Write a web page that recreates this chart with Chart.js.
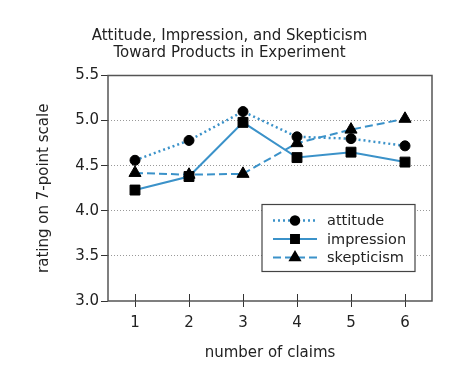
<!DOCTYPE html>
<html>
<head>
<meta charset="utf-8">
<script src="https://cdn.jsdelivr.net/npm/chart.js@4/dist/chart.umd.min.js"></script>
<style>
  html, body { margin: 0; padding: 0; background: #fff; }
  #wrap { width: 459px; height: 366px; }
</style>
</head>
<body>
<div id="wrap"><canvas id="chart" width="459" height="366"></canvas></div>
<script>
const claims = ['1', '2', '3', '4', '5', '6'];
const attitude = [4.56, 4.78, 5.1, 4.82, 4.8, 4.72];
const impression = [4.23, 4.38, 4.98, 4.59, 4.65, 4.54];
const skepticism = [4.42, 4.4, 4.41, 4.75, 4.9, 5.02];
const yTicks = [3.0, 3.5, 4.0, 4.5, 5.0, 5.5];

const blue = '#3b92c9';
const ink = '#222';
const fontFamily = '"DejaVu Sans", Verdana, sans-serif';

const chartAreaBorder = {
  id: 'chartAreaBorder',
  afterDatasetsDraw: function (chart) {
    const {
      ctx,
      chartArea: { left, top, width, height },
    } = chart;
    ctx.save();
    ctx.strokeStyle = '#555';
    ctx.lineWidth = 1.5;
    ctx.strokeRect(left, top, width, height);
    // x ticks cross the axis line
    const xs = chart.scales.x;
    ctx.strokeStyle = '#333';
    ctx.lineWidth = 1;
    xs.ticks.forEach((t, i) => {
      const px = Math.round(xs.getPixelForTick(i)) + 0.5;
      ctx.beginPath();
      ctx.moveTo(px, top + height);
      ctx.lineTo(px, top + height - 7);
      ctx.stroke();
    });
    ctx.restore();
  },
};

const boxLegend = {
  id: 'boxLegend',
  afterDatasetsDraw: function (chart) {
    const { ctx, chartArea } = chart;
    const bx = chartArea.right - 170;
    const by = chartArea.top + 129;
    ctx.save();
    ctx.fillStyle = '#fff';
    ctx.fillRect(bx, by, 153, 67);
    ctx.strokeStyle = '#444';
    ctx.lineWidth = 1.2;
    ctx.strokeRect(bx, by, 153, 67);
    chart.data.datasets.forEach((ds, i) => {
      const y = by + 16 + i * 18.5;
      ctx.strokeStyle = ds.borderColor;
      ctx.lineWidth = ds.borderWidth;
      ctx.setLineDash(ds.borderDash || []);
      ctx.beginPath();
      ctx.moveTo(bx + 11, y);
      ctx.lineTo(bx + 55, y);
      ctx.stroke();
      ctx.setLineDash([]);
      ctx.fillStyle = '#000';
      ctx.strokeStyle = '#000';
      Chart.helpers.drawPoint(ctx, {
        pointStyle: ds.pointStyle,
        radius: ds.pointRadius * 0.8,
        rotation: 0,
        borderWidth: 1,
      }, bx + 33, y);
      ctx.fillStyle = ink;
      ctx.font = '14.5px ' + fontFamily;
      ctx.textBaseline = 'middle';
      ctx.fillText(ds.label, bx + 65, y + 1);
    });
    ctx.restore();
  },
};

const config = {
  type: 'line',
  data: {
    labels: claims,
    datasets: [
      {
        label: 'attitude',
        data: attitude,
        borderColor: blue,
        borderWidth: 2.5,
        borderDash: [2, 3],
        pointStyle: 'circle',
        pointRadius: 5,
        pointBackgroundColor: '#000',
        pointBorderColor: '#000',
        pointBorderWidth: 1,
      },
      {
        label: 'impression',
        data: impression,
        borderColor: blue,
        borderWidth: 2,
        pointStyle: 'rect',
        pointRadius: 7,
        pointBackgroundColor: '#000',
        pointBorderColor: '#000',
        pointBorderWidth: 1,
      },
      {
        label: 'skepticism',
        data: skepticism,
        borderColor: blue,
        borderWidth: 2,
        borderDash: [8, 4],
        pointStyle: 'triangle',
        pointRadius: 7,
        pointBackgroundColor: '#000',
        pointBorderColor: '#000',
        pointBorderWidth: 1,
      },
    ],
  },
  options: {
    responsive: false,
    animation: false,
    layout: {
      padding: { left: 0, right: 0, top: 0, bottom: 0 },
    },
    plugins: {
      legend: { display: false },
      tooltip: { enabled: false },
      title: {
        display: true,
        text: ['Attitude, Impression, and Skepticism', 'Toward Products in Experiment'],
        color: ink,
        font: { size: 15, weight: 'normal', family: fontFamily, lineHeight: 1.15 },
        padding: { top: 27, bottom: 14 },
      },
    },
    scales: {
      x: {
        type: 'category',
        offset: true,
        grid: {
          display: true,
          drawOnChartArea: false,
          drawTicks: true,
          tickLength: 6,
          tickColor: '#333',
          tickWidth: 1,
          offset: false,
        },
        border: { display: false },
        ticks: {
          color: ink,
          padding: 7,
          maxRotation: 0,
          font: { size: 15, family: fontFamily },
        },
        title: {
          display: true,
          text: 'number of claims',
          color: ink,
          font: { size: 15, family: fontFamily },
          padding: { top: 6, bottom: 4 },
        },
        afterFit: function (scale) {
          scale.height = 65;
        },
      },
      y: {
        min: 3.0,
        max: 5.5,
        afterBuildTicks: function (scale) {
          scale.ticks = yTicks.map((v) => ({ value: v }));
        },
        grid: {
          color: (c) => (c.tick && c.tick.value > 3.0 && c.tick.value < 5.5 ? '#999' : 'rgba(0,0,0,0)'),
          lineWidth: 1,
          tickColor: '#333',
          tickWidth: 1,
          tickLength: 7,
          tickBorderDash: [],
        },
        border: { display: false, dash: [1, 2] },
        ticks: {
          color: ink,
          padding: 2,
          font: { size: 15, family: fontFamily },
          callback: (v) => Number(v).toFixed(1),
        },
        title: {
          display: true,
          text: 'rating on 7-point scale',
          color: ink,
          font: { size: 15, family: fontFamily },
          padding: { top: 35, bottom: 0 },
        },
        afterFit: function (scale) {
          scale.width = 108;
        },
      },
      // empty right-hand strip so the title centres on the whole canvas
      yRight: {
        position: 'right',
        display: true,
        min: 3.0,
        max: 5.5,
        grid: { display: false },
        border: { display: false },
        ticks: { display: false },
        afterFit: function (scale) {
          scale.width = 27;
        },
      },
    },
  },
  plugins: [chartAreaBorder, boxLegend],
};

const ctx = document.getElementById('chart').getContext('2d');
new Chart(ctx, config);
</script>
</body>
</html>
